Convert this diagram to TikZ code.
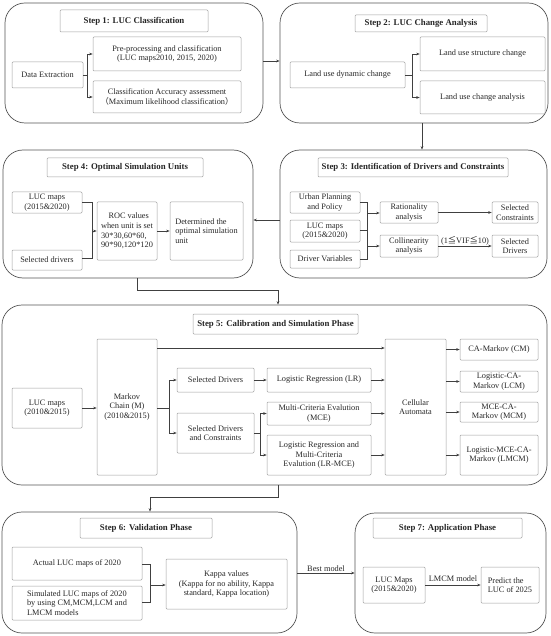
\documentclass[tikz,border=0pt]{standalone}
\usepackage{fontspec}
\setmainfont{Liberation Serif}
\newfontfamily\cjk{Noto Sans CJK SC}
\usetikzlibrary{arrows.meta}
\definecolor{boxgray}{HTML}{A0A0A0}
\definecolor{outgray}{HTML}{555555}
\definecolor{linegray}{HTML}{404040}
\newcommand{\bxn}[7][]{%
  \pgfmathsetmacro{\mybw}{#5-#3}\pgfmathsetmacro{\mybh}{#6-#4}%
  \pgfmathsetmacro{\mycx}{(#3+#5)/2}\pgfmathsetmacro{\mycy}{(#4+#6)/2}%
  \node[box,#1,minimum width=\mybw pt,minimum height=\mybh pt] (#2) at (\mycx,\mycy) {#7};}
\tikzset{
  box/.style={draw=boxgray, line width=0.5pt, rounded corners=1pt, align=center, inner sep=1pt,
    font=\fontsize{8.3}{9.6}\selectfont, text=black!85},
  outer/.style={draw=outgray, line width=0.7pt, rounded corners=20pt},
  ttl/.style={font=\bfseries\fontsize{8.8}{10}\selectfont},
  conn/.style={draw=linegray, line width=0.6pt},
  arr/.style={conn, -{Stealth[length=3.5pt,width=2.6pt]}},
  lbl/.style={font=\fontsize{8.3}{9.6}\selectfont, text=black!85, inner sep=1pt},
}
\begin{document}
\begin{tikzpicture}[x=1pt,y=-1pt]
\useasboundingbox (0,0) rectangle (550,636);
% ---------- outer step boxes
\bxn[outer]{s1}{5}{3}{263}{123}{}
\bxn[outer]{s2}{280}{3}{548}{123}{}
\bxn[outer]{s3}{280}{150}{547}{278}{}
\bxn[outer]{s4}{3}{150}{253}{278}{}
\bxn[outer]{s5}{2}{305}{547}{485}{}
\bxn[outer]{s6}{2}{512}{297}{633}{}
\bxn[outer]{s7}{355}{513}{546}{633}{}
% ---------- Step 1
\bxn[ttl]{t1}{60}{10}{208}{32}{Step 1: LUC Classification}
\bxn{de}{12}{62}{83}{88}{Data Extraction}
\bxn{pp}{93}{37}{241}{71}{Pre-processing and classification\\ (LUC maps2010, 2015, 2020)}
\bxn{ca}{93}{81}{241}{113}{Classification Accuracy assessment\\{\cjk （}Maximum likelihood classification{\cjk ）}}
\coordinate (j1) at (87,75);
\draw[conn] (de.east) -- (j1);
\draw[arr] (j1) |- (pp.west);
\draw[arr] (j1) |- (ca.west);
% ---------- Step 2
\bxn[ttl]{t2}{355}{15}{487}{32}{Step 2: LUC Change Analysis}
\bxn{lud}{290}{62}{405}{88}{Land use dynamic change}
\bxn{lus}{420}{37}{545}{71}{Land use structure change}
\bxn{luc}{420}{81}{545}{114}{Land use change analysis}
\coordinate (j2) at (412,75);
\draw[conn] (lud.east) -- (j2);
\draw[arr] (j2) |- (lus.west);
\draw[arr] (j2) |- (luc.west);
\draw[arr] (s1.east |- 0,61) -- (s2.west |- 0,61);
\draw[arr] (s2.south -| 422,0) -- (s3.north -| 422,0);
% ---------- Step 3
\bxn[ttl]{t3}{318}{158}{508}{177}{Step 3: Identification of Drivers and Constraints}
\bxn{upp}{290}{192}{360}{213}{Urban Planning\\and Policy}
\bxn{lm3}{290}{220}{360}{242}{LUC maps\\(2015\&2020)}
\bxn{dv}{290}{250}{360}{268}{Driver Variables}
\bxn{ra}{380}{202}{438}{223}{Rationality\\analysis}
\bxn{co}{380}{235}{438}{257}{Collinearity\\analysis}
\bxn{sc}{492}{202}{538}{223}{Selected\\Constraints}
\bxn{sdr}{492}{235}{538}{257}{Selected\\Drivers}
\coordinate (j3a) at (367,213);
\coordinate (j3b) at (367,246);
\draw[conn] (upp.east |- 0,202) -| (j3a);
\draw[conn] (lm3.east |- 0,230) -| (j3a);
\draw[conn] (lm3.east |- 0,230) -| (j3b);
\draw[conn] (dv.east |- 0,259) -| (j3b);
\draw[arr] (j3a) -- (ra.west |- j3a);
\draw[arr] (j3b) -- (co.west |- j3b);
\draw[arr] (ra.east) -- (sc.west |- ra.east);
\draw[arr] (co.east) -- node[lbl, above, yshift=-1pt] {(1{\cjk ≦}VIF{\cjk ≦}10)} (sdr.west |- co.east);
\draw[arr] (s3.west |- 0,220) -- (s4.east |- 0,220);
% ---------- Step 4
\bxn[ttl]{t4}{47}{158}{203}{177}{Step 4: Optimal Simulation Units}
\bxn{lm4}{12}{192}{82}{213}{LUC maps\\(2015\&2020)}
\bxn{sd4}{12}{250}{82}{270}{Selected drivers}
\bxn[align=left]{roc}{97}{202}{157}{260}{\hspace*{0.9em}ROC values\\when unit is set\\30*30,60*60,\\90*90,120*120}
\bxn[align=left]{det}{170}{202}{243}{260}{Determined the\\optimal simulation\\unit}
\coordinate (j4) at (92,231);
\draw[conn] (lm4.east |- 0,202) -| (j4);
\draw[conn] (sd4.east |- 0,258) -| (j4);
\draw[arr] (j4) -- (roc.west |- j4);
\draw[arr] (roc.east) -- (det.west |- roc.east);
\coordinate (c45) at (278,290);
\draw[arr] (s4.south -| 137,0) |- (c45) -- (s5.north -| c45);
% ---------- Step 5
\bxn[ttl]{t5}{193}{314}{358}{334}{Step 5: Calibration and Simulation Phase}
\bxn{lm5}{12}{388}{82}{428}{LUC maps\\(2010\&2015)}
\bxn{mk}{97}{339}{157}{475}{Markov\\Chain (M)\\(2010\&2015)}
\bxn{sd5}{177}{368}{254}{392}{Selected Drivers}
\bxn{sdc}{177}{413}{254}{453}{Selected Drivers\\and Constraints}
\bxn{lr}{267}{368}{371}{392}{Logistic Regression (LR)}
\bxn{mce}{267}{402}{371}{425}{Multi-Criteria Evalution\\(MCE)}
\bxn{lrm}{267}{435}{371}{475}{Logistic Regression and\\Multi-Criteria\\Evalution (LR-MCE)}
\bxn{cell}{385}{339}{446}{475}{Cellular\\Automata}
\bxn{cm}{460}{339}{538}{360}{CA-Markov (CM)}
\bxn{lcm}{460}{371}{538}{392}{Logistic-CA-\\Markov (LCM)}
\bxn{mcm}{460}{402}{538}{422}{MCE-CA-\\Markov (MCM)}
\bxn{lmcm}{460}{435}{538}{475}{Logistic-MCE-CA-\\Markov (LMCM)}
\draw[arr] (lm5.east) -- (mk.west |- lm5.east);
\draw[arr] (mk.east |- 0,348) -- (cell.west |- 0,348);
\coordinate (j5a) at (169,408);
\draw[conn] (mk.east |- j5a) -- (j5a);
\draw[arr] (j5a) |- (sd5.west);
\draw[arr] (j5a) |- (sdc.west);
\draw[arr] (sd5.east) -- (lr.west |- sd5.east);
\coordinate (j5b) at (260,433);
\draw[conn] (sdc.east) -- (j5b);
\draw[arr] (j5b) |- (mce.west);
\draw[arr] (j5b) |- (lrm.west);
\draw[arr] (lr.east) -- (cell.west |- lr.east);
\draw[arr] (mce.east) -- (cell.west |- mce.east);
\draw[arr] (lrm.east) -- (cell.west |- lrm.east);
\draw[arr] (cell.east |- cm.west) -- (cm.west);
\draw[arr] (cell.east |- lcm.west) -- (lcm.west);
\draw[arr] (cell.east |- mcm.west) -- (mcm.west);
\draw[arr] (cell.east |- lmcm.west) -- (lmcm.west);
\coordinate (c56) at (150,497);
\draw[arr] (s5.south -| 278,0) |- (c56) -- (s6.north -| c56);
% ---------- Step 6
\bxn[ttl]{t6}{80}{518}{212}{538}{Step 6: Validation Phase}
\bxn{act}{12}{547}{142}{580}{Actual LUC maps of 2020}
\bxn[align=left]{sim}{12}{586}{142}{620}{Simulated LUC maps of 2020\\by using CM,MCM,LCM and\\LMCM models}
\bxn{kap}{166}{559}{287}{609}{Kappa values\\(Kappa for no ability, Kappa\\standard, Kappa location)}
\coordinate (j6) at (150,585);
\draw[conn] (act.east |- 0,564) -| (j6);
\draw[conn] (sim.east |- 0,602) -| (j6);
\draw[arr] (j6) -- (kap.west |- j6);
\draw[arr] (s6.east |- 0,573) -- node[lbl, above] {Best model} (s7.west |- 0,573);
% ---------- Step 7
\bxn[ttl]{t7}{373}{518}{522}{538}{Step 7: Application Phase}
\bxn{lm7}{363}{567}{425}{603}{LUC Maps\\(2015\&2020)}
\bxn[align=left]{pr}{481}{567}{539}{603}{Predict the\\LUC of 2025}
\draw[arr] (lm7.east) -- node[lbl, above, yshift=2pt] {LMCM model} (pr.west |- lm7.east);
\end{tikzpicture}
\end{document}
